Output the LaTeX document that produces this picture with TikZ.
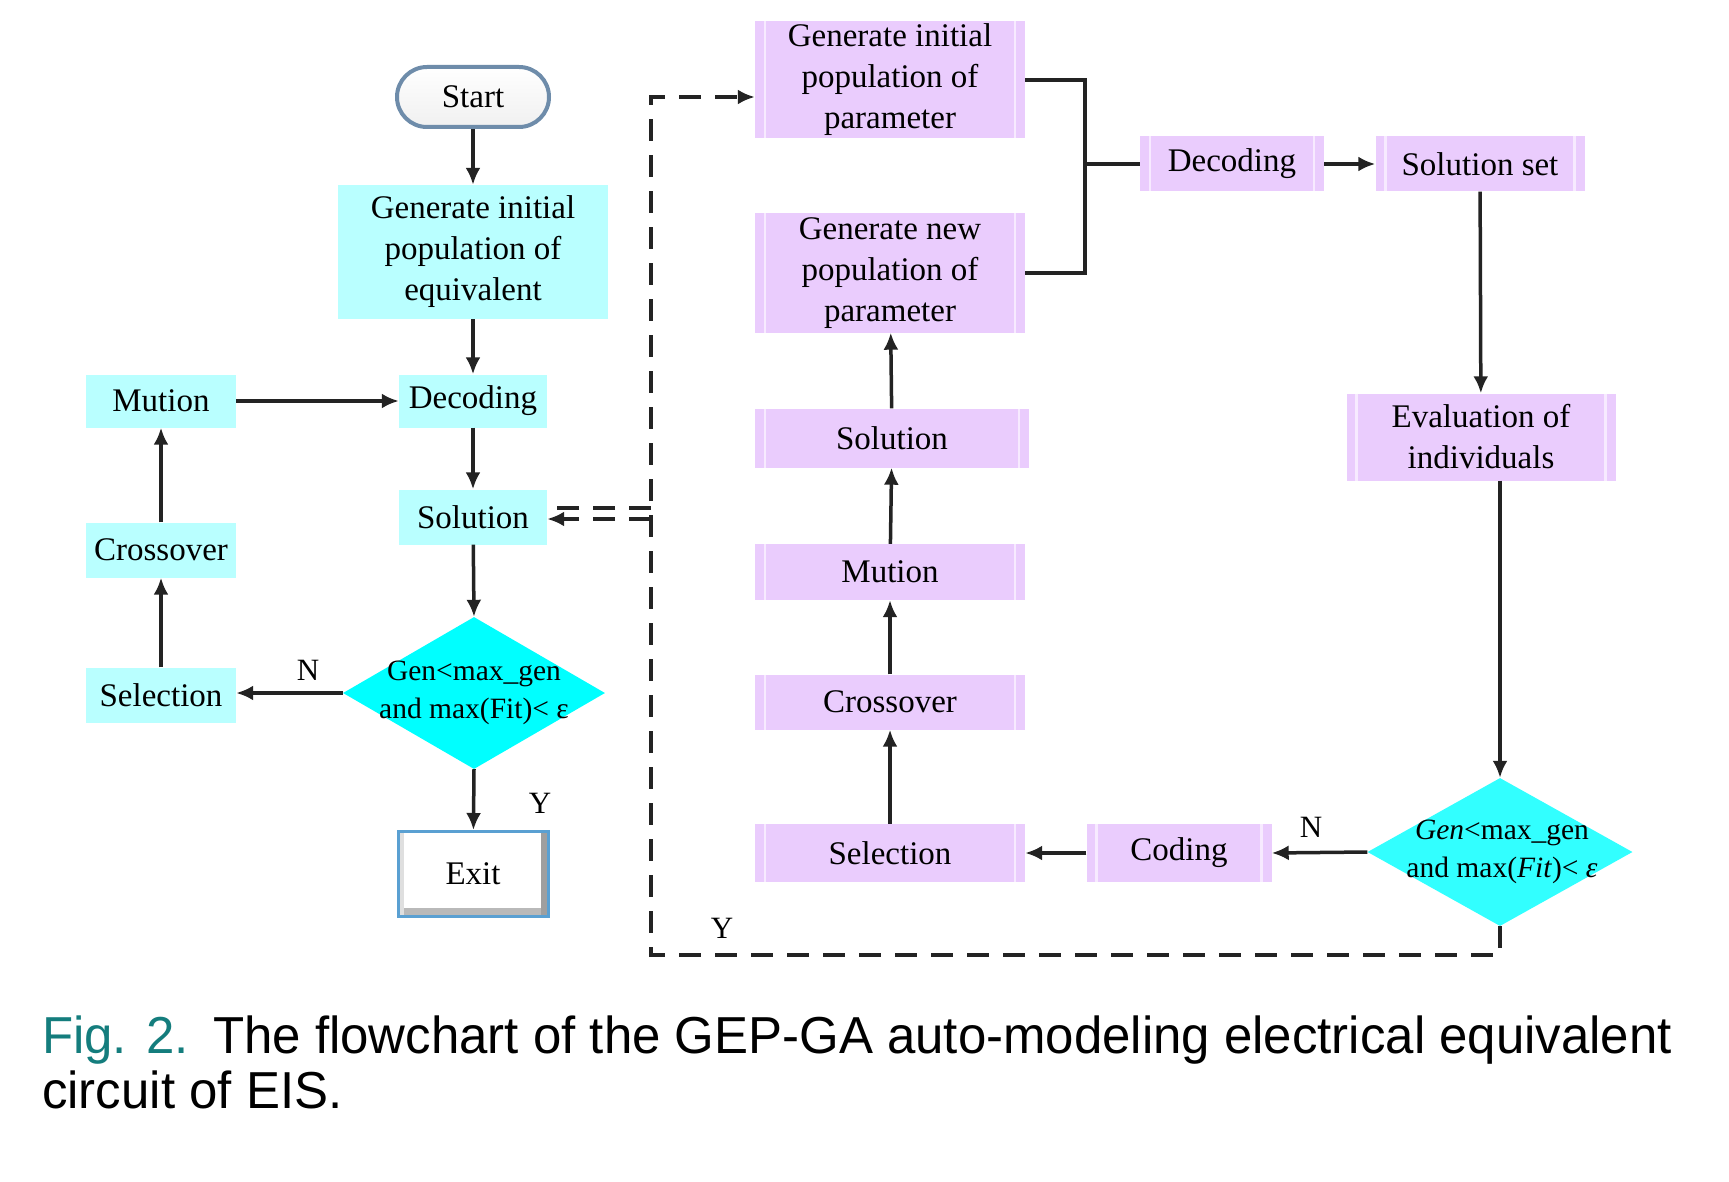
\documentclass[tikz,border=0pt]{standalone}
\usepackage{fontspec}
\setmainfont{Liberation Serif}
\newfontfamily\capfont[FakeStretch=0.98]{Liberation Sans}
\usetikzlibrary{shapes.geometric,arrows.meta,calc}
\definecolor{cyanL}{RGB}{185,255,255}
\definecolor{cyanD}{RGB}{0,255,255}
\definecolor{cyanR}{RGB}{50,255,255}
\definecolor{lav}{RGB}{234,204,253}
\definecolor{lavLine}{RGB}{247,234,255}
\definecolor{lineC}{RGB}{35,35,35}
\definecolor{tealC}{RGB}{20,125,125}
\definecolor{startB}{RGB}{110,140,170}
\definecolor{exitB}{RGB}{90,160,210}
\begin{document}
\begin{tikzpicture}[x=1pt,y=-1pt,
  txt/.style={font=\fontsize{33}{41}\selectfont, align=center, text=black},
  cbox/.style={txt, fill=cyanL, inner sep=0pt},
  pbox/.style={txt, fill=lav, inner sep=0pt, path picture={
    \draw[lavLine, line width=2.5pt] ([xshift=10pt]path picture bounding box.north west) -- ([xshift=10pt]path picture bounding box.south west);
    \draw[lavLine, line width=2.5pt] ([xshift=-10pt]path picture bounding box.north east) -- ([xshift=-10pt]path picture bounding box.south east);}},
  dia/.style={diamond, inner sep=0pt},
  diatxt/.style={font=\fontsize{29.5}{38}\selectfont, align=center, inner sep=0pt},
  conn/.style={draw=lineC, line width=3.5pt},
  ar/.style={conn, -{Latex[length=17pt,width=15pt]}},
  dsh/.style={conn, dash pattern=on 22pt off 14pt},
  lbl/.style={font=\fontsize{31}{31}\selectfont, inner sep=0pt},
  startS/.style={txt, rectangle, rounded corners=30pt, minimum width=152pt, minimum height=60pt, draw=startB, line width=4pt, top color=white, bottom color=gray!12},
  exitS/.style={txt, rectangle, minimum width=150pt, minimum height=85pt, draw=exitB, line width=3pt, fill=white, path picture={
    \fill[gray!55] (path picture bounding box.south west) rectangle ([yshift=9pt]path picture bounding box.south east);
    \fill[gray!75] ([xshift=-7pt]path picture bounding box.south east) rectangle (path picture bounding box.north east);
    \fill[gray!25] (path picture bounding box.south west) rectangle ([xshift=6pt]path picture bounding box.north west);}}
]
\fill[white] (0,0) rectangle (1729,1182);
\useasboundingbox (0,0) rectangle (1729,1182);

% ---------- left flowchart ----------
\node[startS] (start) at (473,97) {Start};
\node[cbox, minimum width=270pt, minimum height=134pt] (genL) at (473,252) {Generate initial\\population of\\equivalent};
\node[cbox, minimum width=150pt, minimum height=53pt] (mutL) at (161,401) {Mution};
\node[cbox, minimum width=148pt, minimum height=53pt] (decL) at (473,401) {Decoding};
\node[cbox, minimum width=148pt, minimum height=55pt] (solL) at (473,517) {Solution};
\node[cbox, minimum width=150pt, minimum height=55pt] (crossL) at (161,550) {Crossover};
\node[cbox, minimum width=150pt, minimum height=55pt] (selL) at (161,695) {Selection};
\node[dia, fill=cyanD, minimum width=262pt, minimum height=152pt] (diaL) at (474,693) {};
\node[diatxt] (diaLt) at (474,693) {Gen<max\_gen\\and max(Fit)< ε};
\node[exitS] (exit) at (473,874) {Exit};

\draw[ar] (start) -- (genL);
\draw[ar] (genL) -- (decL);
\draw[ar] (decL) -- (solL);
\draw[ar] (solL) -- (diaL.north);
\draw[ar] (diaL.south) -- (exit);
\draw[ar] (diaL.west) -- (diaL.west -| selL.east);
\draw[ar] (selL) -- (crossL);
\draw[ar] (crossL) -- (mutL);
\draw[ar] (mutL) -- (decL);
\node[lbl] (nL) at (308,670) {N};
\node[lbl] (yL) at (540,803) {Y};

% ---------- right flowchart ----------
\node[pbox, minimum width=270pt, minimum height=117pt] (genP) at (890,80) {Generate initial\\population of\\parameter};
\node[pbox, minimum width=270pt, minimum height=119pt] (newP) at (890,273) {Generate new\\population of\\parameter};
\node[pbox, minimum width=184pt, minimum height=55pt] (decR) at (1232,164) {Decoding};
\node[pbox, minimum width=209pt, minimum height=55pt] (solset) at (1480,164) {Solution set};
\node[pbox, minimum width=274pt, minimum height=59pt] (solR) at (892,438) {Solution};
\node[pbox, minimum width=270pt, minimum height=56pt] (mutR) at (890,572) {Mution};
\node[pbox, minimum width=270pt, minimum height=55pt] (crossR) at (890,702) {Crossover};
\node[pbox, minimum width=270pt, minimum height=58pt] (selR) at (890,853) {Selection};
\node[pbox, minimum width=185pt, minimum height=58pt] (coding) at (1179,853) {Coding};
\node[pbox, minimum width=269pt, minimum height=87pt] (eval) at (1481,437) {Evaluation of\\individuals};
\node[dia, fill=cyanR, minimum width=265pt, minimum height=148pt] (diaR) at (1500,852) {};
\node[diatxt] (diaRt) at (1502,852) {\textit{Gen}<max\_gen\\and max(\textit{Fit})< \textit{ε}};

\coordinate (brk) at (1085,164);
\draw[conn] (genP.east) -| (brk) |- (newP.east);
\draw[conn] (brk) -- (decR.west);
\draw[ar] (decR) -- (solset);
\draw[ar] (solset) -- (eval);
\draw[ar] (eval.south -| diaR.north) -- (diaR.north);
\draw[ar] (diaR.west) -- (coding.east);
\draw[ar] (coding.west) -- (selR.east);
\draw[ar] (selR) -- (crossR);
\draw[ar] (crossR) -- (mutR);
\draw[ar] (mutR) -- (solR);
\draw[ar] (solR) -- (newP);
\node[lbl] (nR) at (1311,827) {N};
\node[lbl] (yR) at (722,928) {Y};

% ---------- dashed feedback ----------
\coordinate (dTop) at (651,97);
\coordinate (dBot) at (651,955);
\draw[dsh, -{Latex[length=17pt,width=15pt]}] (diaR.south) -- (diaR.south |- dBot) -- (dBot) -- (dTop) -- (dTop -| genP.west);
\coordinate (dA) at (651,508);
\coordinate (dB) at (651,519);
\draw[dsh] (dA) -- (dA -| solL.east);
\draw[dsh, -{Latex[length=17pt,width=15pt]}] (dB) -- (dB -| solL.east);

% ---------- caption ----------
\node[anchor=base west, inner sep=0pt, font=\capfont\fontsize{52}{56}\selectfont, text=tealC] (capA) at (42,1053) {Fig. 2.};
\node[anchor=base west, inner sep=0pt, font=\capfont\fontsize{52}{56}\selectfont] (capB) at (213,1053) {The flowchart of the GEP-GA auto-modeling electrical equivalent};
\node[anchor=base west, inner sep=0pt, font=\capfont\fontsize{52}{56}\selectfont] (capC) at (42,1108) {circuit of EIS.};
\end{tikzpicture}
\end{document}
